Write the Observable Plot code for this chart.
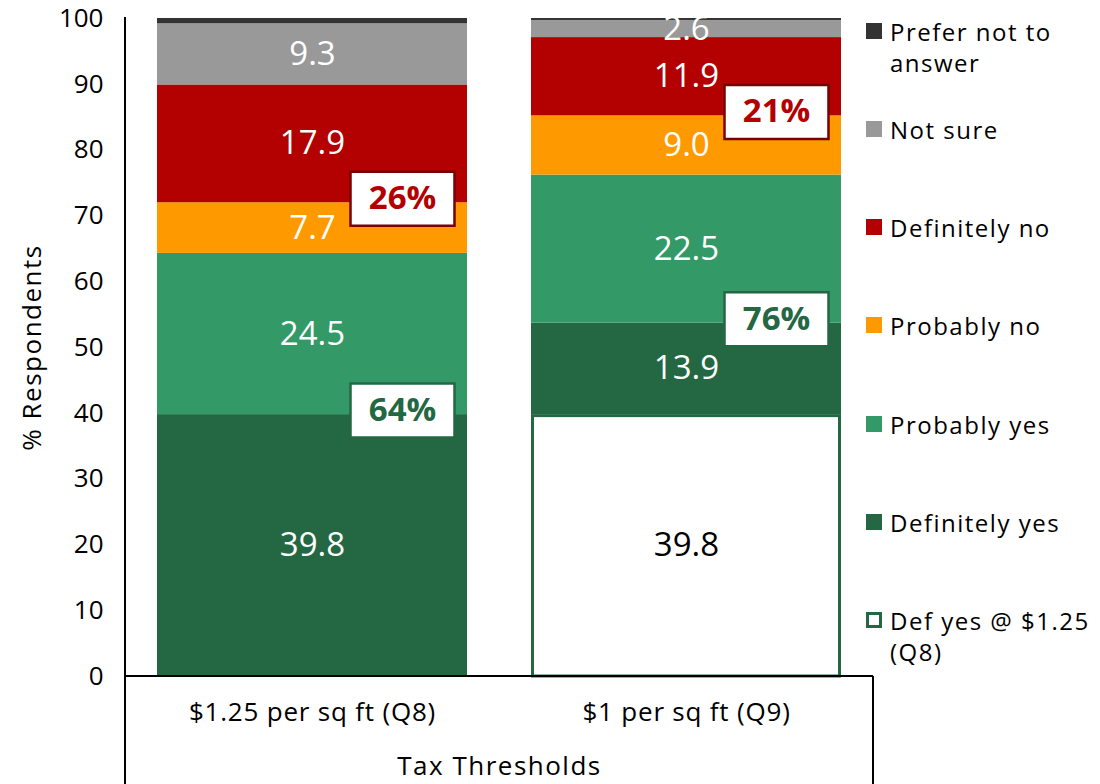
<!DOCTYPE html>
<html>
<head>
<meta charset="utf-8">
<script src="https://cdn.jsdelivr.net/npm/d3@7"></script>
<script src="https://cdn.jsdelivr.net/npm/@observablehq/plot@0.6"></script>
<style>
  body { margin: 0; background: #fff; font-family: "Open Sans", sans-serif; }
  #wrap { position: relative; width: 1100px; height: 784px; overflow: hidden; }
  .leg-item { position: absolute; left: 866px; width: 234px; font-size: 24px; line-height: 31px; letter-spacing: 1.5px; color: #000; }
  .leg-sw { position: absolute; left: 0; top: 7px; width: 16px; height: 16px; box-sizing: border-box; }
  .leg-tx { position: absolute; left: 24px; top: 0; width: 212px; }
</style>
</head>
<body>
<div id="wrap"></div>
<script>
// ---- data ----
const categories = ["$1.25 per sq ft (Q8)", "$1 per sq ft (Q9)"];
// stacking order, bottom to top
const responses = ["Def yes @ $1.25 (Q8)", "Definitely yes", "Probably yes", "Probably no", "Definitely no", "Not sure", "Prefer not to answer"];
const q8Values = [0, 39.8, 24.5, 7.7, 17.9, 9.3, 0.8];
const q9Values = [39.8, 13.9, 22.5, 9.0, 11.9, 2.6, 0.3];
const seriesColors = ["#ffffff", "#246743", "#339966", "#FF9900", "#B30000", "#999999", "#333333"];
const netLabels = ["64%", "26%", "76%", "21%"];
const netCategoryIndex = [0, 0, 1, 1];
const netKinds = ["yes", "no", "yes", "no"];
const yTicks = [0, 10, 20, 30, 40, 50, 60, 70, 80, 90, 100];

// ---- derived table ----
const valuesByCat = [q8Values, q9Values];
const rows = [];
categories.forEach((cat, ci) => {
  let acc = 0;
  responses.forEach((resp, ri) => {
    const v = valuesByCat[ci][ri];
    rows.push({category: cat, response: resp, ri, value: v, y1: acc, y2: acc + v, mid: acc + v / 2, color: seriesColors[ri]});
    acc += v;
  });
});
const outlineSeries = responses[0];
const netRows = netLabels.map((label, i) => {
  const cat = categories[netCategoryIndex[i]];
  // yes box sits at top of "Definitely yes", no box at bottom of "Definitely no"
  const anchor = netKinds[i] === "yes"
    ? rows.find(r => r.category === cat && r.response === "Definitely yes").y2
    : rows.find(r => r.category === cat && r.response === "Definitely no").y1;
  return {category: cat, y: anchor, label, kind: netKinds[i]};
});

const GREEN = "#246743", RED = "#B30000", DARKRED = "#7a0000";
const boxSymbol = { draw(context) { context.rect(-52, -27, 104, 54); } };

const W = 1100, H = 784, ML = 125, MR = 227, MT = 18, MB = 108;

const chart = Plot.plot({
  width: W, height: H,
  marginLeft: ML, marginRight: MR, marginTop: MT, marginBottom: MB,
  style: {fontFamily: "'Open Sans', sans-serif", background: "white", color: "black", overflow: "visible"},
  x: {domain: categories, paddingInner: 0.17, paddingOuter: 0.085},
  y: {domain: [0, 100]},
  color: {type: "identity"},
  marks: [
    Plot.barY(rows.filter(r => r.response !== outlineSeries && r.value > 0), {x: "category", y1: "y1", y2: "y2", fill: "color"}),
    Plot.barY(rows.filter(r => r.response === outlineSeries && r.value > 0), {x: "category", y1: "y1", y2: "y2", fill: "white", stroke: GREEN, strokeWidth: 3, insetTop: 1.5, insetLeft: 1.5, insetRight: 1.5}),
    Plot.text(rows.filter(r => r.value >= 1), {x: "category", y: "mid", text: d => d.value.toFixed(1), fill: d => d.response === outlineSeries ? "black" : "white", fontSize: 33, style: {letterSpacing: "1px"}}),
    Plot.dot(netRows, {x: "category", y: "y", symbol: boxSymbol, fill: "white", stroke: d => d.kind === "yes" ? GREEN : DARKRED, strokeWidth: 2.5, dx: 90, dy: -4}),
    Plot.text(netRows, {x: "category", y: "y", text: "label", fill: d => d.kind === "yes" ? GREEN : RED, fontWeight: "bold", fontSize: 33, dx: 90, dy: -4}),
    Plot.axisY({ticks: yTicks, tickSize: 0, tickPadding: 22, fontSize: 26, label: "% Respondents", labelAnchor: "center", labelOffset: 103, labelArrow: "none"}),
    Plot.axisX({tickSize: 0, tickPadding: 26, fontSize: 26, label: "Tax Thresholds", labelAnchor: "center", labelOffset: 98, labelArrow: "none"})
  ]
});

// table-style frame lines
const svg = d3.select(chart);
const xR = W - MR, yB = H - MB;
svg.append("line").attr("x1", ML).attr("x2", ML).attr("y1", MT - 1).attr("y2", H).attr("stroke", "black").attr("stroke-width", 2);
svg.append("line").attr("x1", ML).attr("x2", xR).attr("y1", yB).attr("y2", yB).attr("stroke", "black").attr("stroke-width", 2);
svg.append("line").attr("x1", xR).attr("x2", xR).attr("y1", yB).attr("y2", H).attr("stroke", "black").attr("stroke-width", 2);
svg.selectAll("g[aria-label='y-axis label'] text, g[aria-label='x-axis label'] text").style("font-size", "26px").style("letter-spacing", "1.5px");
svg.selectAll("g[aria-label='x-axis tick label'] text").style("letter-spacing", "0.8px");

const wrap = document.getElementById("wrap");
wrap.appendChild(chart);

// legend (top to bottom = reverse stacking order)
const legendOrder = responses.map((r, i) => i).reverse();
legendOrder.forEach((ri, k) => {
  const item = document.createElement("div");
  item.className = "leg-item";
  item.style.top = (15.5 + k * 98.3) + "px";
  const sw = document.createElement("div");
  sw.className = "leg-sw";
  if (responses[ri] === outlineSeries) { sw.style.background = "white"; sw.style.border = "3px solid " + GREEN; }
  else sw.style.background = seriesColors[ri];
  const tx = document.createElement("div");
  tx.className = "leg-tx";
  tx.textContent = responses[ri];
  item.appendChild(sw); item.appendChild(tx);
  wrap.appendChild(item);
});
</script>
</body>
</html>
